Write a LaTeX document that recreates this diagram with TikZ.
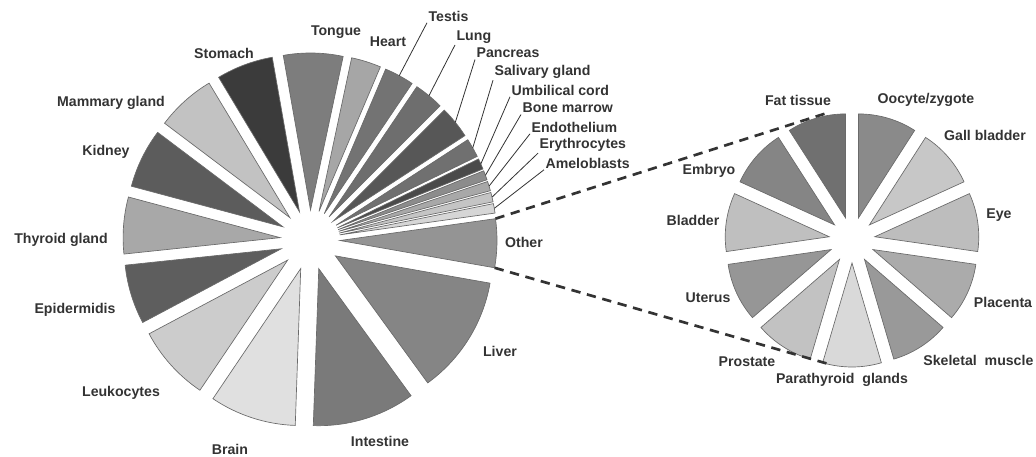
\documentclass[tikz,border=0pt]{standalone}
\usepackage{fontspec}
\setmainfont{Liberation Sans}
\usetikzlibrary{calc}
\definecolor{ink}{HTML}{333333}
\definecolor{rim}{HTML}{6A6A6A}
\tikzset{
  slice/.style={draw=rim, line width=0.5pt},
  lbl/.style={font=\bfseries\fontsize{10.6}{12}\selectfont, text=ink, inner sep=1pt},
  leader/.style={draw=ink, line width=0.6pt},
  zoomline/.style={draw=ink, line width=2pt, dash pattern=on 7pt off 5pt}
}
% centre, offset, radius, from, to, fill, tip name
\newcommand{\pieslice}[7]{%
  \pgfmathsetmacro{\slicemid}{(#4+#5)/2}%
  \filldraw[slice, fill=#6] ($(#1)+(\slicemid:#2)$) -- ++(#4:#3) arc[start angle=#4, end angle=#5, radius=#3] -- cycle;%
  \coordinate (#7) at ($(#1)+(\slicemid:#2)+(\slicemid:#3)$);%
}

\begin{document}
\begin{tikzpicture}[x=0.75pt, y=0.75pt]
  \useasboundingbox (0,0) rectangle (1036,457);
  \coordinate (leftpie) at (310,217);
  \coordinate (rightpie) at (852,217);

  \pieslice{leftpie}{30}{157}{-10}{8}{black!42}{other-tip}
  \pieslice{leftpie}{30}{157}{8}{11.5}{black!16}{ameloblasts-tip}
  \pieslice{leftpie}{30}{157}{11.5}{15}{black!23}{erythrocytes-tip}
  \pieslice{leftpie}{30}{157}{15}{18.5}{black!34}{endothelium-tip}
  \pieslice{leftpie}{30}{157}{18.5}{22}{black!45}{bonemarrow-tip}
  \pieslice{leftpie}{30}{157}{22}{26}{black!71}{umbilical-tip}
  \pieslice{leftpie}{30}{157}{26}{33}{black!56}{salivary-tip}
  \pieslice{leftpie}{30}{157}{33}{45}{black!66}{pancreas-tip}
  \pieslice{leftpie}{30}{157}{45}{56}{black!57}{lung-tip}
  \pieslice{leftpie}{30}{157}{56}{67}{black!55}{testis-tip}
  \pieslice{leftpie}{30}{157}{67}{78}{black!35}{heart-tip}
  \pieslice{leftpie}{30}{157}{78}{100}{black!51}{tongue-tip}
  \pieslice{leftpie}{30}{157}{100}{121}{black!77}{stomach-tip}
  \pieslice{leftpie}{30}{157}{121}{143}{black!24}{mammary-tip}
  \pieslice{leftpie}{30}{157}{143}{165}{black!64}{kidney-tip}
  \pieslice{leftpie}{30}{157}{165}{186}{black!34}{thyroid-tip}
  \pieslice{leftpie}{30}{157}{186}{208}{black!63}{epidermidis-tip}
  \pieslice{leftpie}{30}{157}{208}{236}{black!20}{leukocytes-tip}
  \pieslice{leftpie}{30}{157}{236}{268}{black!12}{brain-tip}
  \pieslice{leftpie}{30}{157}{268}{306}{black!52}{intestine-tip}
  \pieslice{leftpie}{30}{157}{306}{350}{black!48}{liver-tip}

  \pieslice{rightpie}{23}{104}{57.3}{90}{black!46}{oocyte-tip}
  \pieslice{rightpie}{23}{104}{24.5}{57.3}{black!22}{gall-tip}
  \pieslice{rightpie}{23}{104}{-8.2}{24.5}{black!26}{eye-tip}
  \pieslice{rightpie}{23}{104}{-40.9}{-8.2}{black!33}{placenta-tip}
  \pieslice{rightpie}{23}{104}{-73.6}{-40.9}{black!40}{skeletal-tip}
  \pieslice{rightpie}{23}{104}{-106.4}{-73.6}{black!15}{parathyroid-tip}
  \pieslice{rightpie}{23}{104}{-139.1}{-106.4}{black!24}{prostate-tip}
  \pieslice{rightpie}{23}{104}{-171.8}{-139.1}{black!41}{uterus-tip}
  \pieslice{rightpie}{23}{104}{155.5}{188.2}{black!25}{bladder-tip}
  \pieslice{rightpie}{23}{104}{122.7}{155.5}{black!48}{embryo-tip}
  \pieslice{rightpie}{23}{104}{90}{122.7}{black!56}{fat-tip}

  \coordinate (other-top) at ($(leftpie)+(-1:30)+(8:157)$);
  \coordinate (other-bottom) at ($(leftpie)+(-1:30)+(-10:157)$);
  \coordinate (zoom-top) at (827,344);
  \coordinate (zoom-bottom) at (832,92);
  \draw[zoomline] (other-top) -- (zoom-top);
  \draw[zoomline] (other-bottom) -- (zoom-bottom);

  \node[lbl] (tongue) at (336,425) {Tongue};
  \node[lbl] (heart) at (388,415) {Heart};
  \node[lbl] (stomach) at (224,404) {Stomach};
  \node[lbl] (mammary) at (111,354) {Mammary gland};
  \node[lbl] (kidney) at (106,305) {Kidney};
  \node[lbl] (thyroid) at (61,217) {Thyroid gland};
  \node[lbl] (epidermidis) at (75,147) {Epidermidis};
  \node[lbl] (leukocytes) at (121,64) {Leukocytes};
  \node[lbl] (brain) at (230,8) {Brain};
  \node[lbl] (intestine) at (380,16) {Intestine};
  \node[lbl] (liver) at (500,106) {Liver};
  \node[lbl] (other) at (524,215) {Other};

  \node[lbl, anchor=west] (testis) at (427,441) {Testis};
  \node[lbl, anchor=west] (lung) at (455,420) {Lung};
  \node[lbl, anchor=west] (pancreas) at (475,404) {Pancreas};
  \node[lbl, anchor=west] (salivary) at (493,385) {Salivary gland};
  \node[lbl, anchor=west] (umbilical) at (510,367) {Umbilical cord};
  \node[lbl, anchor=west] (bonemarrow) at (521,349) {Bone marrow};
  \node[lbl, anchor=west] (endothelium) at (530,330) {Endothelium};
  \node[lbl, anchor=west] (erythrocytes) at (538,312) {Erythrocytes};
  \node[lbl, anchor=west] (ameloblasts) at (544,294) {Ameloblasts};

  \draw[leader] (testis-tip) -- (testis.south west);
  \draw[leader] (lung-tip) -- (lung.south west);
  \draw[leader] (pancreas-tip) -- (pancreas.south west);
  \draw[leader] (salivary-tip) -- (salivary.south west);
  \draw[leader] (umbilical-tip) -- (umbilical.south west);
  \draw[leader] (bonemarrow-tip) -- (bonemarrow.south west);
  \draw[leader] (endothelium-tip) -- (endothelium.south west);
  \draw[leader] (erythrocytes-tip) -- (erythrocytes.south west);
  \draw[leader] (ameloblasts-tip) -- (ameloblasts.south west);

  \node[lbl] (fat) at (798,357) {Fat tissue};
  \node[lbl] (oocyte) at (926,357) {Oocyte/zygote};
  \node[lbl] (gall) at (985,322) {Gall bladder};
  \node[lbl] (eye) at (999,242) {Eye};
  \node[lbl] (placenta) at (1003,155) {Placenta};
  \node[lbl, anchor=east] (skeletal) at (1035,97) {Skeletal~~muscle};
  \node[lbl] (parathyroid) at (842,77) {Parathyroid~~glands};
  \node[lbl] (prostate) at (747,95) {Prostate};
  \node[lbl] (uterus) at (708,159) {Uterus};
  \node[lbl] (bladder) at (693,237) {Bladder};
  \node[lbl] (embryo) at (709,286) {Embryo};
\end{tikzpicture}
\end{document}
